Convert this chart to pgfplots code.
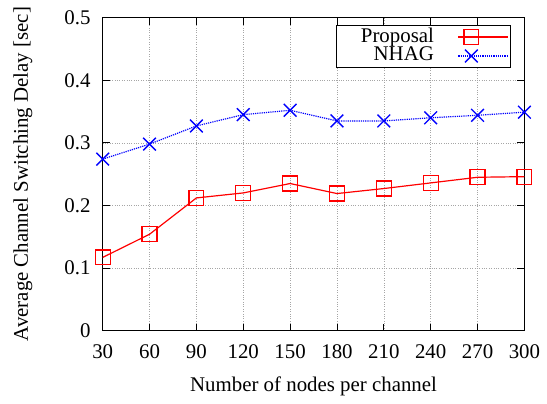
\documentclass[border=0pt]{standalone}
\usepackage{fontspec}
\setmainfont{Liberation Serif}
\usepackage{pgfplots}
\pgfplotsset{compat=1.18}
\begin{document}
\fontsize{21}{25}\selectfont
\begin{tikzpicture}
\begin{axis}[
  at={(0,0)}, anchor=south west,
  scale only axis,
  width=423bp, height=314bp,
  xmin=30, xmax=300, ymin=0, ymax=0.5,
  xtick={30,60,...,300},
  ytick={0,0.1,0.2,0.3,0.4,0.5},
  yticklabel style={xshift=-5bp, /pgf/number format/fixed, /pgf/number format/precision=1},
  /pgf/number format/assume math mode=true,
  tick align=inside,
  major tick length=7bp,
  tick style={black, line width=0.8pt},
  axis line style={black, line width=0.9pt},
  grid=major,
  grid style={gray!70, dotted, line width=0.6pt},
  xticklabel style={yshift=-7bp},
  xlabel={Number of nodes per channel},
  ylabel={Average Channel Switching Delay [sec]},
  xlabel style={yshift=-4bp},
  ylabel style={yshift=18bp},
  legend style={at={(0.969,0.976)}, anchor=north east, draw=black, line width=0.9pt,
    fill=white, inner xsep=2bp, inner ysep=2bp, row sep=0pt, font=\fontsize{21}{21}\selectfont,
    nodes={inner ysep=0.5bp, text height=14bp, text depth=4bp},
    cells={anchor=east}},
  legend plot pos=right,
  legend image code/.code={
    \draw[#1, mark=none, line width=1.2pt] (0bp,0bp) -- (50bp,0bp);
    \draw[#1, only marks] plot coordinates {(13bp,0bp)};
  },
]
\addplot[red, line width=1.2pt, mark=square, mark size=7.5bp, mark options={solid, line width=1.2pt}]
coordinates {(30,0.117) (60,0.154) (90,0.212) (120,0.220) (150,0.235) (180,0.219) (210,0.227) (240,0.236) (270,0.245) (300,0.246)};
\addlegendentry{\makebox[116bp][r]{Proposal\kern22bp}}
\addplot[blue, line width=1.2pt, densely dotted, mark=x, mark size=9bp, mark options={solid, line width=1.4pt}]
coordinates {(30,0.274) (60,0.298) (90,0.327) (120,0.345) (150,0.352) (180,0.335) (210,0.335) (240,0.340) (270,0.344) (300,0.349)};
\addlegendentry{\makebox[116bp][r]{NHAG\kern22bp}}
\end{axis}
\path[use as bounding box] (-103bp,-65bp) rectangle (444bp,329bp);
\end{tikzpicture}
\end{document}
